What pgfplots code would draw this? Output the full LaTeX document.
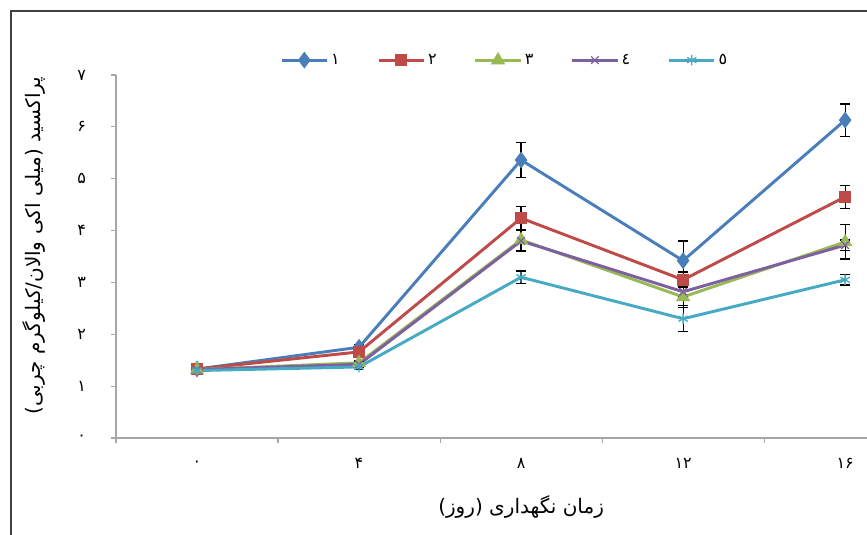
\documentclass[border=0pt]{standalone}
\usepackage{fontspec}
\usepackage{pgfplots}
\usepackage{pgfplotstable}
\pgfplotsset{compat=1.18}
\TeXXeTstate=1
\newfontfamily\fa[Script=Arabic]{DejaVu Sans}
\definecolor{c1}{HTML}{4A7EBB}
\definecolor{c2}{HTML}{BE4B48}
\definecolor{c3}{HTML}{98B954}
\definecolor{c4}{HTML}{7D60A0}
\definecolor{c5}{HTML}{46AAC5}
\pgfplotstableread{
x s1 e1 s2 e2 s3 e3 s4 e4 s5 e5
0 1.33 0.04 1.33 0.04 1.32 0.04 1.32 0.04 1.30 0.04
4 1.75 0.05 1.66 0.05 1.45 0.05 1.42 0.05 1.37 0.05
8 5.36 0.34 4.24 0.22 3.82 0.20 3.80 0.20 3.10 0.12
12 3.42 0.38 3.05 0.15 2.72 0.20 2.82 0.10 2.30 0.25
16 6.13 0.31 4.65 0.22 3.78 0.33 3.72 0.10 3.05 0.10
}\datatable
\begin{document}
\begin{tikzpicture}
\useasboundingbox (0,0) rectangle (650.25pt,401.25pt);
\fill[white] (0,0) rectangle (650.25pt,401.25pt);
\draw[line width=1.5pt, black!75] (8.25pt,-3pt) -- (8.25pt,393pt) -- (655pt,393pt);
\begin{axis}[
  scale only axis, width=563.25pt, height=272.25pt,
  at={(87pt,72.75pt)}, anchor=south west,
  xmin=-2, xmax=16.54, ymin=0, ymax=7,
  axis x line=bottom, axis y line=left,
  axis line style={-},
  x axis line style={draw=gray!70, line width=1.5pt},
  y axis line style={draw=gray!70, line width=0.8pt},
  tick align=outside,
  major tick length=3.75pt,
  tick style={draw=gray!70, line width=0.8pt},
  xtick={-2,2,6,10,14}, xticklabels={},
  extra x ticks={0,4,8,12,16},
  extra x tick labels={{\fa ۰},{\fa ۴},{\fa ۸},{\fa ۱۲},{\fa ۱۶}},
  extra x tick style={major tick length=0pt},
  xticklabel style={font=\fa\large, anchor=center, yshift=-19pt},
  ytick={0,1,2,3,4,5,6,7},
  yticklabels={{\fa ۰},{\fa ۱},{\fa ۲},{\fa ۳},{\fa ۴},{\fa ۵},{\fa ۶},{\fa ۷}},
  yticklabel style={font=\fa\large, anchor=center, xshift=-22pt},
  xlabel={\fa\beginR زمان نگهداری (روز)\endR},
  xlabel style={at={(axis description cs:0.5394,0)}, anchor=center, yshift=-51.75pt, font=\fa\fontsize{15}{18}\selectfont},
  ylabel={\fa\beginR پراکسید (میلی اکی والان/کیلوگرم چربی)\endR},
  ylabel style={at={(axis description cs:-0.109,0.53)}, anchor=center, font=\fa\fontsize{15}{18}\selectfont},
  legend columns=5,
  legend style={at={(axis description cs:0.518,1.041)}, anchor=center, draw=none, fill=none,
    font=\fa\large, /tikz/every even column/.append style={column sep=26pt}},
  legend image code/.code={\draw[mark repeat=2,mark phase=2,#1] plot coordinates {(0pt,0pt) (17pt,0pt) (34pt,0pt)};},
  every axis plot/.append style={line width=2.2pt},
  error bars/y dir=both, error bars/y explicit,
  error bars/error bar style={black, line width=0.9pt, solid},
  error bars/error mark options={black, line width=0.9pt, rotate=90, mark size=3.5pt},
]
\addplot[c1, mark=diamond*, mark size=4.5pt, mark options={fill=c1, draw=c1}]
  table[x=x, y=s1, y error=e1] {\datatable};
\addlegendentry{۱}
\addplot[c2, mark=square*, mark size=3.3pt, mark options={fill=c2, draw=c2}]
  table[x=x, y=s2, y error=e2] {\datatable};
\addlegendentry{۲}
\addplot[c3, mark=triangle*, mark size=4pt, mark options={fill=c3, draw=c3}]
  table[x=x, y=s3, y error=e3] {\datatable};
\addlegendentry{۳}
\addplot[c4, mark=x, mark size=4pt, mark options={draw=c4, line width=1pt}]
  table[x=x, y=s4, y error=e4] {\datatable};
\addlegendentry{٤}
\addplot[c5, mark=asterisk, mark size=4pt, mark options={draw=c5, line width=1pt}]
  table[x=x, y=s5, y error=e5] {\datatable};
\addlegendentry{٥}
\end{axis}
\end{tikzpicture}
\end{document}
